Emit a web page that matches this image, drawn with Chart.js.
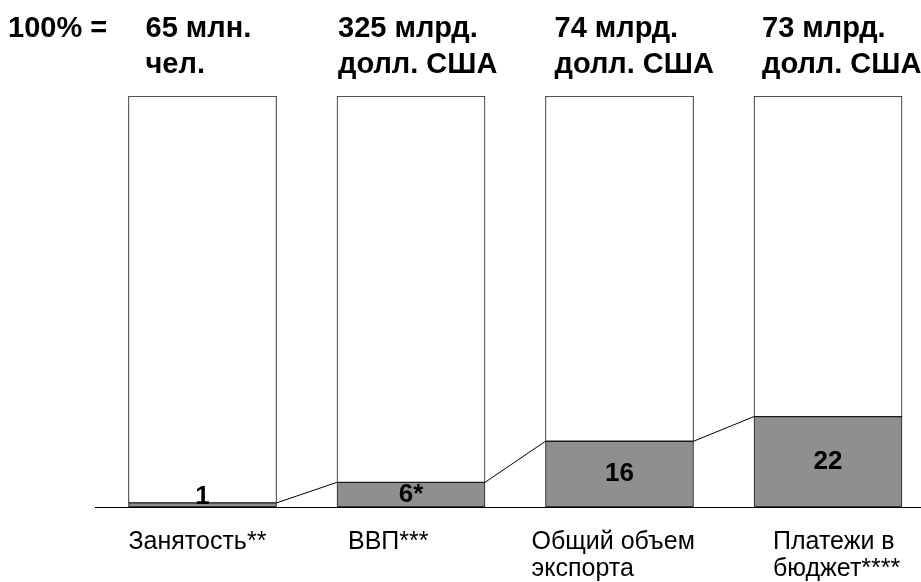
<!DOCTYPE html>
<html>
<head>
<meta charset="utf-8">
<script src="https://cdn.jsdelivr.net/npm/chart.js@4.4.1/dist/chart.umd.min.js"></script>
<style>
  html, body { margin: 0; padding: 0; background: #fff; overflow: hidden; }
  canvas { display: block; }
</style>
</head>
<body>
<canvas id="chart" width="921" height="582"></canvas>
<script>
// shares of the sector, % of the national total
const categories = [['Занятость**'], ['ВВП***'], ['Общий объем', 'экспорта'], ['Платежи в', 'бюджет****']];
const shares = [1, 6, 16, 22];
const remainder = [99, 94, 84, 78];
const shareLabels = ['1', '6*', '16', '22'];
const totals = [['65 млн.', 'чел.'], ['325 млрд.', 'долл. США'], ['74 млрд.', 'долл. США'], ['73 млрд.', 'долл. США']];
const totalsTitle = '100% =';

const FONT = '"Liberation Sans", Arial, Helvetica, sans-serif';

// text placement relative to the left edge of each bar
const headerDx = [17, 1, 9, 8];
const footerDx = [0, 11, -14, 19];

const annotations = {
  id: 'annotations',
  afterDatasetsDraw(chart) {
    const ctx = chart.ctx;
    const area = chart.chartArea;
    const base = chart.scales.y.getPixelForValue(0);
    const bars = chart.getDatasetMeta(0).data;

    ctx.save();
    // baseline
    ctx.strokeStyle = '#000';
    ctx.lineWidth = 1;
    ctx.beginPath();
    ctx.moveTo(area.left, base + 0.5);
    ctx.lineTo(chart.width, base + 0.5);
    ctx.stroke();

    // connectors between the tops of the shaded parts
    ctx.beginPath();
    for (let i = 0; i < bars.length - 1; i++) {
      const a = bars[i], b = bars[i + 1];
      ctx.moveTo(a.x + a.width / 2, a.y);
      ctx.lineTo(b.x - b.width / 2, b.y);
    }
    ctx.stroke();

    ctx.fillStyle = '#000';
    // values inside the shaded parts
    ctx.font = 'bold 26px ' + FONT;
    ctx.textAlign = 'center';
    ctx.textBaseline = 'middle';
    bars.forEach((bar, i) => {
      const y = Math.min((bar.y + bar.base) / 2, base - 10);
      ctx.fillText(shareLabels[i], bar.x, y);
    });

    // totals above the bars
    ctx.textAlign = 'left';
    ctx.textBaseline = 'alphabetic';
    ctx.font = 'bold 29px ' + FONT;
    ctx.fillText(totalsTitle, 8, 37);
    bars.forEach((bar, i) => {
      const x = bar.x - bar.width / 2 + headerDx[i];
      totals[i].forEach((line, j) => ctx.fillText(line, x, 37 + j * 36));
    });

    // category names under the axis
    ctx.font = '25px ' + FONT;
    bars.forEach((bar, i) => {
      const x = bar.x - bar.width / 2 + footerDx[i];
      categories[i].forEach((line, j) => ctx.fillText(line, x, 549 + j * 27));
    });
    ctx.restore();
  }
};

new Chart(document.getElementById('chart'), {
  type: 'bar',
  data: {
    datasets: [
      {
        data: shares.map((v, i) => ({ x: i, y: v })),
        backgroundColor: '#8f8f8f',
        borderColor: '#1a1a1a',
        borderWidth: 1,
        borderSkipped: false,
        barThickness: 148
      },
      {
        data: remainder.map((v, i) => ({ x: i, y: v })),
        backgroundColor: '#ffffff',
        borderColor: '#1a1a1a',
        borderWidth: 1,
        borderSkipped: false,
        barThickness: 148
      }
    ]
  },
  options: {
    responsive: false,
    animation: false,
    events: [],
    layout: { padding: { left: 95, right: 0, top: 96, bottom: 75 } },
    plugins: { legend: { display: false }, tooltip: { enabled: false } },
    scales: {
      x: { type: 'linear', stacked: true, display: false, offset: false, min: -0.5156, max: 3.446 },
      y: { stacked: true, display: false, min: 0, max: 100 }
    }
  },
  plugins: [annotations]
});
</script>
</body>
</html>
